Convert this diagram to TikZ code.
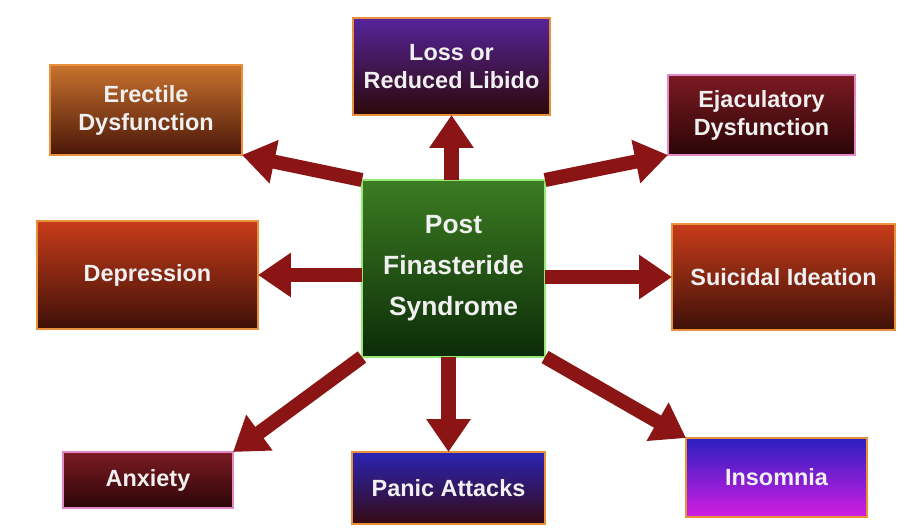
\documentclass[tikz,border=0pt]{standalone}
\usepackage{fontspec}
\setmainfont{Liberation Sans}
\usepackage{tikz}
\usetikzlibrary{arrows.meta}
\usetikzlibrary{calc}

\definecolor{arrowred}{HTML}{8B1515}
\definecolor{edgeorange}{HTML}{E8903A}
\definecolor{edgepink}{HTML}{E488C8}
\definecolor{edgegreen}{HTML}{98E878}
\definecolor{erectop}{HTML}{C8722E}
\definecolor{erecbot}{HTML}{4A1608}
\definecolor{deprtop}{HTML}{C83C1A}
\definecolor{deprbot}{HTML}{3E1008}
\definecolor{wine}{HTML}{7C1A22}
\definecolor{winebot}{HTML}{2A0606}
\definecolor{libtop}{HTML}{56249A}
\definecolor{libbot}{HTML}{2C0808}
\definecolor{pfstop}{HTML}{3C7C22}
\definecolor{pfsbot}{HTML}{0C2C08}
\definecolor{panictop}{HTML}{2A24B4}
\definecolor{panicbot}{HTML}{360A12}
\definecolor{insomtop}{HTML}{2A1EC0}
\definecolor{insombot}{HTML}{D21EE2}

\tikzset{
	symptom/.style={rectangle, inner sep=0pt, outer sep=0pt, line width=1.5pt, align=center,
			text=white!94!black, font=\fontsize{20}{24}\selectfont\bfseries},
	orangebox/.style={symptom, draw=edgeorange},
	pinkbox/.style={symptom, draw=edgepink, top color=wine, bottom color=winebot},
	bigarrow/.style={draw=arrowred, line width=12pt, -{Triangle[width=36pt,length=28pt]}}
}

\begin{document}
\begin{tikzpicture}[x=0.03cm, y=-0.03cm]
	\useasboundingbox (0,0) rectangle (909,527);

	% centre
	\node[symptom, draw=edgegreen, top color=pfstop, bottom color=pfsbot,
		minimum width=5.49cm, minimum height=5.31cm, font=\fontsize{22.5}{35}\selectfont\bfseries]
		(pfs) at (453.5,268.5) {Post\\Finasteride\\Syndrome};

	% top row
	\node[orangebox, top color=erectop, bottom color=erecbot, minimum width=5.76cm, minimum height=2.7cm]
		(erec) at (146,110) {Erectile\\Dysfunction};
	\node[orangebox, top color=libtop, bottom color=libbot, minimum width=5.91cm, minimum height=2.91cm]
		(libido) at (451.5,66.5) {Loss or\\Reduced Libido};
	\node[pinkbox, minimum width=5.61cm, minimum height=2.4cm]
		(ejac) at (761.5,115) {Ejaculatory\\Dysfunction};

	% middle row
	\node[orangebox, top color=deprtop, bottom color=deprbot, minimum width=6.63cm, minimum height=3.24cm]
		(depr) at (147.5,275) {Depression};
	\node[orangebox, top color=deprtop, bottom color=deprbot, minimum width=6.69cm, minimum height=3.18cm]
		(suic) at (783.5,277) {Suicidal Ideation};

	% bottom row
	\node[pinkbox, minimum width=5.1cm, minimum height=1.68cm]
		(anx) at (148,480) {Anxiety};
	\node[orangebox, top color=panictop, bottom color=panicbot, minimum width=5.79cm, minimum height=2.16cm]
		(panic) at (448.5,488) {Panic Attacks};
	\node[orangebox, top color=insomtop, bottom color=insombot, minimum width=5.43cm, minimum height=2.37cm]
		(insom) at (776.5,477.5) {Insomnia};

	\draw[bigarrow] (pfs.north -| libido.south) -- (libido.south);
	\draw[bigarrow] (pfs.north west) -- (erec.south east);
	\draw[bigarrow] (pfs.north east) -- (ejac.south west);
	\draw[bigarrow] (pfs.west |- depr.east) -- (depr.east);
	\draw[bigarrow] (pfs.east |- suic.west) -- (suic.west);
	\draw[bigarrow] (pfs.south west) -- (anx.north east);
	\draw[bigarrow] (pfs.south -| panic.north) -- (panic.north);
	\draw[bigarrow] (pfs.south east) -- (insom.north west);
\end{tikzpicture}
\end{document}
